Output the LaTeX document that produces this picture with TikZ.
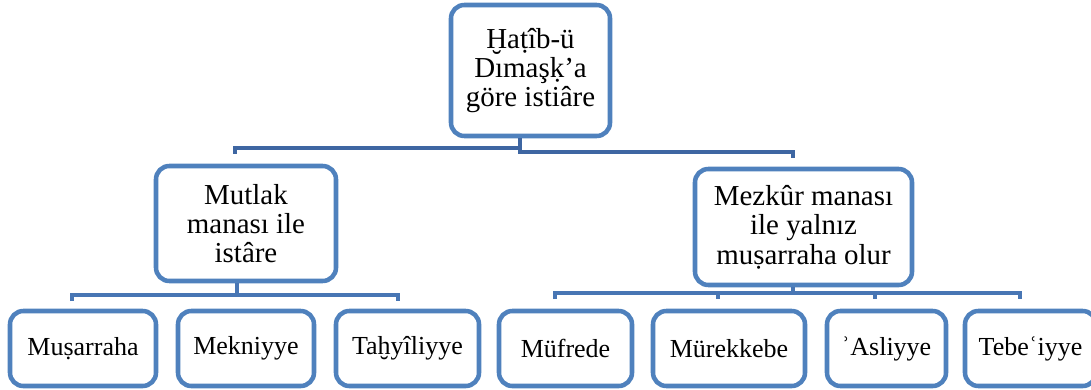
\documentclass[tikz,border=0pt]{standalone}
\usepackage{fontspec}
\setmainfont{Liberation Serif}
\definecolor{boxblue}{RGB}{79,129,189}
\definecolor{linkblue}{RGB}{72,118,180}
\definecolor{topblue}{RGB}{62,102,162}
\begin{document}
\begin{tikzpicture}[x=0.75pt,y=-0.75pt,
  box/.style={draw=boxblue,line width=3.4pt,rounded corners=10pt,fill=white,
    align=center,inner sep=0pt},
  big/.style={font=\fontsize{21.7}{22}\selectfont},
  small/.style={font=\fontsize{19.5}{22}\selectfont},
  link/.style={draw=linkblue,line width=3.4pt},
  toplink/.style={draw=topblue,line width=3.4pt}]
\useasboundingbox (0,0) rectangle (1091,389);
% nodes
\node[box,big,minimum width=159*0.75pt,minimum height=131*0.75pt] (top) at (530.5,70.5) {Ḫaṭîb-ü\\Dımaşḳ’a\\göre istiâre};
\node[box,big,minimum width=180*0.75pt,minimum height=115*0.75pt] (ml) at (246,223.5) {Mutlak\\manası ile\\istâre};
\node[box,big,minimum width=217*0.75pt,minimum height=116*0.75pt] (mr) at (803.5,227) {Mezkûr manası\\ile yalnız\\muṣarraha olur};
\node[box,small,minimum width=146*0.75pt,minimum height=75*0.75pt] (b1) at (83,348.5) {Muṣarraha};
\node[box,small,minimum width=136*0.75pt,minimum height=75*0.75pt] (b2) at (246,348.5) {Mekniyye};
\node[box,small,minimum width=143*0.75pt,minimum height=75*0.75pt] (b3) at (407.5,348.5) {Taḫyîliyye};
\node[box,small,minimum width=133*0.75pt,minimum height=75*0.75pt] (b4) at (565.5,348.5) {Müfrede};
\node[box,small,minimum width=152*0.75pt,minimum height=75*0.75pt] (b5) at (729,348.5) {Mürekkebe};
\node[box,small,minimum width=119*0.75pt,minimum height=75*0.75pt] (b6) at (886.5,348.5) {ʾAsliyye};
\node[box,small,minimum width=131*0.75pt,minimum height=75*0.75pt] (b7) at (1030.5,348.5) {Tebeʿiyye};
% connector coordinates
\coordinate (tl0) at (520,148);
\coordinate (tr0) at (520,152);
\coordinate (tl) at (235,148);
\coordinate (tr) at (793,152);
\coordinate (l0) at (237,295);
\coordinate (la) at (72,295);
\coordinate (lb) at (398,295);
\coordinate (r0) at (793,293);
\coordinate (ra) at (555,293);
\coordinate (rb) at (718,293);
\coordinate (rc) at (875,293);
\coordinate (rd) at (1020,293);
% connectors
\draw[toplink] (top.south -| tl0) -- (tl0) -- (tl) -- ++(0,6);
\draw[toplink] (top.south -| tr0) -- (tr0) -- (tr) -- ++(0,6);
\draw[link] (ml.south -| l0) -- (l0);
\draw[link] (la) ++(0,6) -- (la) -- (lb) -- ++(0,6);
\draw[link] (mr.south -| r0) -- (r0);
\draw[link] (ra) ++(0,6) -- (ra) -- (rd) -- ++(0,6);
\draw[link] (rb) -- ++(0,6);
\draw[link] (rc) -- ++(0,6);
\end{tikzpicture}
\end{document}
